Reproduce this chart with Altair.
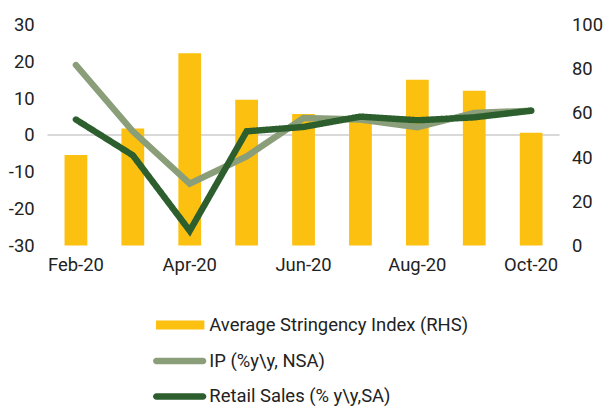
import altair as alt
import pandas as pd

months = ["Feb-20", "Mar-20", "Apr-20", "May-20", "Jun-20", "Jul-20", "Aug-20", "Sep-20", "Oct-20"]
tick_months = ["Feb-20", "Apr-20", "Jun-20", "Aug-20", "Oct-20"]
stringency = [41, 53, 87, 66, 59.5, 57, 75, 70, 51]
ip = [19, 1, -13.2, -5.8, 4.6, 4.2, 2.1, 6, 6.6]
retail = [4.2, -5.5, -26, 1, 2.2, 5, 4, 4.8, 6.6]
left_ticks = [-30, -20, -10, 0, 10, 20, 30]
right_ticks = [0, 20, 40, 60, 80, 100]
zero_line = [0]

LAB_S = "Average Stringency Index (RHS)"
LAB_IP = "IP (%y\\y, NSA)"
LAB_RS = "Retail Sales (% y\\y,SA)"

YELLOW = "#FCC011"
IPCOL = "#8A9E7A"
RSCOL = "#2C5F2D"
TXT = "#222222"
FS = 18.67

df = pd.DataFrame({
    "month": months,
    "stringency": stringency,
    "ip": ip,
    "retail": retail,
    "s_lab": [LAB_S] * len(months),
    "ip_lab": [LAB_IP] * len(months),
    "rs_lab": [LAB_RS] * len(months),
})
zdf = pd.DataFrame({"zero": zero_line})

x_enc = alt.X(
    "month:N", sort=months,
    scale=alt.Scale(paddingInner=0.6, paddingOuter=0.3),
    axis=alt.Axis(values=tick_months, title=None, labelAngle=0, domain=False,
                  ticks=False, labelPadding=10, grid=False, labelOverlap=False),
)

left_axis = alt.Axis(orient="left", values=left_ticks, title=None, domain=False,
                     ticks=False, grid=False, labelPadding=13.5, labelOverlap=False,
                     labelFlush=False, labelExpr="toString(datum.value)")
left_scale = alt.Scale(domain=[-30, 30])

leg_common = dict(orient="none", title=None, labelFont="Roboto", labelFontSize=FS,
                  labelColor=TXT, padding=0, labelLimit=500)

PILL = "M-0.876,-0.124H0.876A0.124,0.124,0,0,1,0.876,0.124H-0.876A0.124,0.124,0,0,1,-0.876,-0.124Z"

rule = alt.Chart(zdf).mark_rule(color="#D9D9D9", strokeWidth=2).encode(
    y=alt.Y("zero:Q", scale=alt.Scale(domain=[-30, 30]), axis=None),
)

bars = alt.Chart(df).mark_bar().encode(
    x=x_enc,
    y=alt.Y("stringency:Q", scale=alt.Scale(domain=[0, 100]),
            axis=alt.Axis(orient="right", values=right_ticks, title=None, domain=False,
                          ticks=False, grid=False, labelPadding=12, labelOverlap=False,
                          labelFlush=False)),
    fill=alt.Fill("s_lab:N", scale=alt.Scale(domain=[LAB_S], range=[YELLOW]),
                  legend=alt.Legend(symbolType="M-1,-0.19H1V0.19H-1Z", symbolSize=2401,
                                    symbolStrokeWidth=0, labelOffset=5,
                                    legendX=110, legendY=280, **leg_common)),
)

ip_line = alt.Chart(df).mark_line(strokeWidth=6.5, color=IPCOL, strokeCap="round").encode(
    x=x_enc,
    y=alt.Y("ip:Q", scale=left_scale, axis=left_axis),
    stroke=alt.Stroke("ip_lab:N", scale=alt.Scale(domain=[LAB_IP], range=[IPCOL]),
                      legend=alt.Legend(symbolType=PILL, symbolSize=2916,
                                        symbolStrokeWidth=0, symbolFillColor=IPCOL,
                                        labelOffset=3, legendX=107, legendY=314,
                                        **leg_common)),
)

rs_line = alt.Chart(df).mark_line(strokeWidth=6.5, color=RSCOL, strokeCap="round").encode(
    x=x_enc,
    y=alt.Y("retail:Q", scale=left_scale, axis=left_axis),
    strokeDash=alt.StrokeDash("rs_lab:N", scale=alt.Scale(domain=[LAB_RS], range=[[1, 0]]),
                              legend=alt.Legend(symbolType=PILL, symbolSize=2916,
                                                symbolStrokeWidth=0, symbolFillColor=RSCOL,
                                                labelOffset=3, legendX=107, legendY=350,
                                                **leg_common)),
)

chart = alt.layer(rule, bars, alt.layer(ip_line, rs_line)).resolve_scale(
    y="independent"
).properties(
    width=519, height=224,
    autosize=alt.AutoSizeParams(type="none"),
    padding={"left": 40, "top": 14, "right": 46, "bottom": 170},
).configure_view(stroke=None).configure_axis(
    labelFont="Roboto", labelFontSize=FS, labelColor=TXT
)

chart.save("out.html", embed_options={"renderer": "svg", "actions": False})
